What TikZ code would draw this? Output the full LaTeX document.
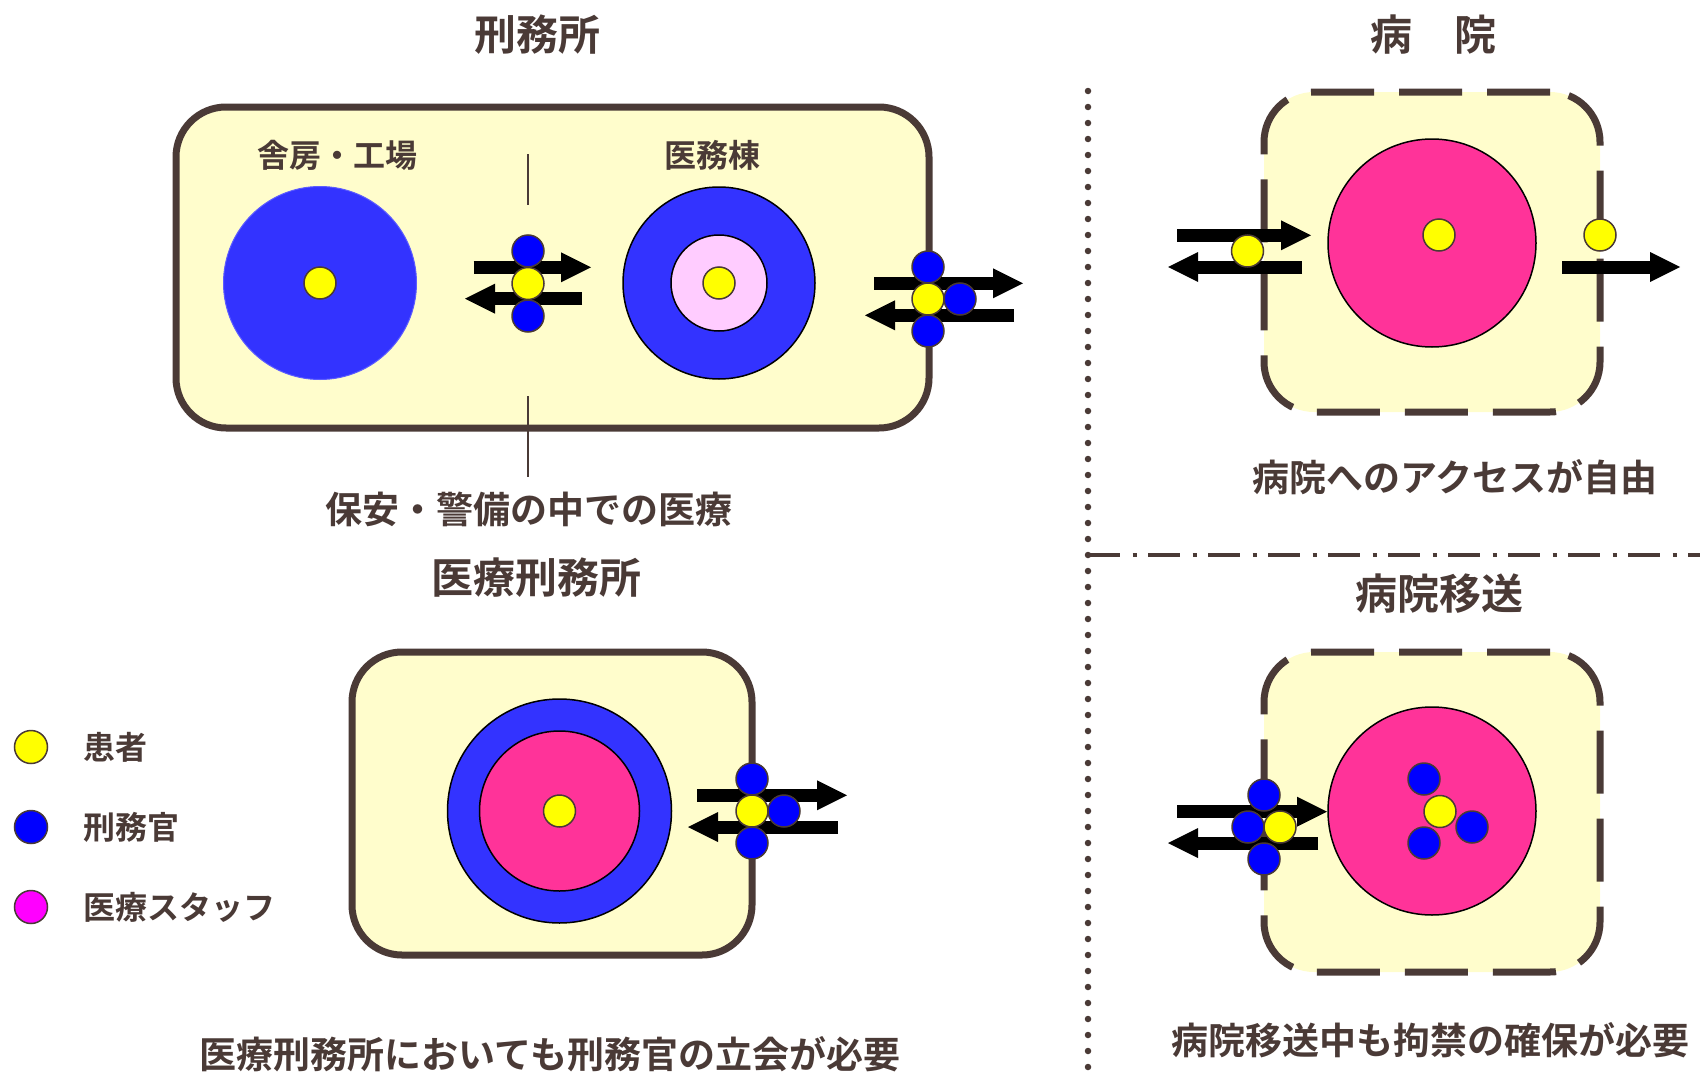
\documentclass[tikz,border=0pt]{standalone}
\usepackage{fontspec}
\newfontfamily\jp{Noto Sans CJK JP}[BoldFont={Noto Sans CJK JP Bold}]
\usetikzlibrary{arrows.meta}
\definecolor{ink}{HTML}{4A3A36}
\definecolor{boxfill}{HTML}{FFFDCC}
\definecolor{ablue}{HTML}{3333FF}
\definecolor{gblue}{HTML}{0000FF}
\definecolor{ppink}{HTML}{FF3399}
\definecolor{lpink}{HTML}{FFCCFF}
\definecolor{mag}{HTML}{FF00FF}
\definecolor{pyellow}{HTML}{FFFF00}
\tikzset{
  person/.style={circle, draw=ink, line width=1.5pt, inner sep=0pt, minimum size=32pt},
  patient/.style={person, fill=pyellow},
  guard/.style={person, fill=gblue},
  area/.style={circle, draw=black, line width=1.5pt, inner sep=0pt},
  box/.style={draw=ink, line width=7pt, fill=boxfill, rounded corners=50pt, inner sep=0pt},
  dbox/.style={box, dash pattern=on 63pt off 25pt},
  bigarrow/.style={line width=13pt, -{Triangle[length=30pt,width=30pt,line width=0pt]}},
  title/.style={font=\jp\bfseries\fontsize{42}{48}\selectfont, text=ink, inner sep=0pt, text height=32pt, text depth=0pt},
  body/.style={font=\jp\bfseries\fontsize{37}{44}\selectfont, text=ink, inner sep=0pt, text height=28pt, text depth=0pt},
  small/.style={font=\jp\bfseries\fontsize{32}{38}\selectfont, text=ink, inner sep=0pt, text height=24.3pt, text depth=0pt},
  leader/.style={draw=ink, line width=2.5pt},
}
\begin{document}
\begin{tikzpicture}[x=1pt,y=-1pt]
\useasboundingbox (0,0) rectangle (1700,1073);

% separators
\coordinate (v0) at (1088,91);
\coordinate (v1) at (1088,1068);
\coordinate (h0) at (1088,555);
\coordinate (h1) at (1700,555);
\draw[ink, line width=6.5pt, line cap=round, dash pattern=on 0pt off 16pt] (v0) -- (v1);
\draw[ink, line width=4pt, dash pattern=on 31.6pt off 13pt on 4pt off 11.4pt] (h0) -- (h1);

% titles
\node[title] (t1) at (537,35) {刑務所};
\node[title] (t2) at (1433,35) {病　院};
\node[title] (t3) at (536,577) {医療刑務所};
\node[title] (t4) at (1439,593) {病院移送};

% ---------------- prison ----------------
\node[box, minimum width=753pt, minimum height=321pt] (prison) at (552.5,267.5) {};
\node[small] (l1) at (337,155) {舎房・工場};
\node[small] (l2) at (712,155) {医務棟};
\node[circle, fill=ablue, draw=ablue!80!white, line width=1pt, inner sep=0pt, minimum size=193pt] (cell) at (320,283) {};
\node[patient] (p1) at (320,283) {};
\node[area, fill=ablue, minimum size=192pt] (med) at (719,283) {};
\node[area, fill=lpink, minimum size=96pt] (medin) at (719,283) {};
\node[patient] (p2) at (719,283) {};

\coordinate (ln1a) at (528,154);
\coordinate (ln1b) at (528,205);
\coordinate (ln2a) at (528,396);
\coordinate (ln2b) at (528,477);
\draw[leader] (ln1a) -- (ln1b);
\draw[leader] (ln2a) -- (ln2b);
\node[body] (l3) at (529,509) {保安・警備の中での医療};

% group 1 (inside prison)
\coordinate (a1s) at (473.5,267.3);
\coordinate (a1e) at (591,267.3);
\coordinate (a2s) at (582,298.7);
\coordinate (a2e) at (465,298.7);
\draw[bigarrow] (a1s) -- (a1e);
\draw[bigarrow] (a2s) -- (a2e);
\node[guard] (g1a) at (528,251) {};
\node[guard] (g1b) at (528,316) {};
\node[patient] (g1p) at (528,283.5) {};

% group 2 (prison gate)
\coordinate (a3s) at (874,283.3);
\coordinate (a3e) at (1023,283.3);
\coordinate (a4s) at (1014,315.3);
\coordinate (a4e) at (865,315.3);
\draw[bigarrow] (a3s) -- (a3e);
\draw[bigarrow] (a4s) -- (a4e);
\node[guard] (g2a) at (928,267) {};
\node[guard] (g2b) at (928,331) {};
\node[guard] (g2c) at (960,299) {};
\node[patient] (g2p) at (928,299) {};

% ---------------- hospital ----------------
\node[dbox, minimum width=336pt, minimum height=320pt] (hosp) at (1432,252) {};
\node[area, fill=ppink, minimum size=208pt] (hc) at (1432,243) {};
\node[patient] (hp) at (1439,235) {};
\coordinate (a5s) at (1177,235.3);
\coordinate (a5e) at (1311,235.3);
\coordinate (a6s) at (1302,267);
\coordinate (a6e) at (1168,267);
\draw[bigarrow] (a5s) -- (a5e);
\draw[bigarrow] (a6s) -- (a6e);
\node[patient] (hp2) at (1247.5,251) {};
\coordinate (a7s) at (1562,267);
\coordinate (a7e) at (1680,267);
\draw[bigarrow] (a7s) -- (a7e);
\node[patient] (hp3) at (1600,235) {};
\node[body] (l4) at (1455,477) {病院へのアクセスが自由};

% ---------------- medical prison ----------------
\node[box, minimum width=400pt, minimum height=303pt] (medp) at (552,803.5) {};
\node[area, fill=ablue, minimum size=224pt] (mc) at (559.5,811) {};
\node[area, fill=ppink, minimum size=160pt] (mcin) at (559.5,811) {};
\node[patient] (mp) at (559.5,811) {};
\coordinate (a8s) at (697,795.3);
\coordinate (a8e) at (847,795.3);
\coordinate (a9s) at (838,827);
\coordinate (a9e) at (688,827);
\draw[bigarrow] (a8s) -- (a8e);
\draw[bigarrow] (a9s) -- (a9e);
\node[guard] (g3a) at (752,779) {};
\node[guard] (g3b) at (752,843) {};
\node[guard] (g3c) at (784,811) {};
\node[patient] (g3p) at (752,811) {};
\node[body] (l6) at (550,1054) {医療刑務所においても刑務官の立会が必要};

% ---------------- hospital transfer ----------------
\node[dbox, minimum width=336pt, minimum height=320pt] (hosp2) at (1432,812) {};
\node[area, fill=ppink, minimum size=208pt] (hc2) at (1432,811) {};
\node[guard] (g4a) at (1424,779) {};
\node[guard] (g4b) at (1472,827) {};
\node[guard] (g4c) at (1424,843) {};
\node[patient] (g4p) at (1440,811.5) {};
\coordinate (a10s) at (1177,811.7);
\coordinate (a10e) at (1327,811.7);
\coordinate (a11s) at (1318,843);
\coordinate (a11e) at (1168,843);
\draw[bigarrow] (a10s) -- (a10e);
\draw[bigarrow] (a11s) -- (a11e);
\node[guard] (g5a) at (1264,795) {};
\node[guard] (g5b) at (1248,827) {};
\node[guard] (g5c) at (1264,859) {};
\node[patient] (g5p) at (1280,827) {};
\node[body] (l5) at (1430,1040) {病院移送中も拘禁の確保が必要};

% ---------------- legend ----------------
\node[patient, minimum size=33pt] (k1) at (31,747) {};
\node[guard, minimum size=33pt] (k2) at (31,827) {};
\node[person, fill=mag, minimum size=33pt] (k3) at (31,907) {};
\node[small, anchor=west] (k1t) at (83,747) {患者};
\node[small, anchor=west] (k2t) at (83,827) {刑務官};
\node[small, anchor=west] (k3t) at (83,907) {医療スタッフ};
\end{tikzpicture}
\end{document}
